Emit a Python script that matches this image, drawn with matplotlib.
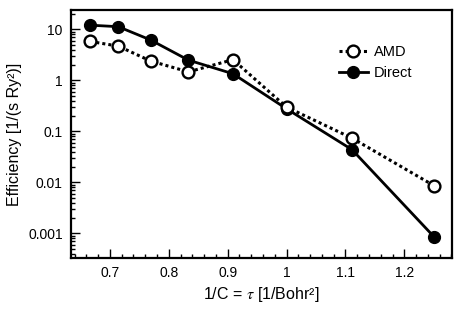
import matplotlib
matplotlib.use("Agg")
import matplotlib.pyplot as plt
from matplotlib.ticker import MultipleLocator, LogLocator, FixedFormatter, FixedLocator, NullFormatter

plt.rcParams['font.family'] = ['Liberation Sans', 'DejaVu Sans']
plt.rcParams['mathtext.fontset'] = 'stix'

## Data
inv_c = [1/1.5, 1/1.4, 1/1.3, 1/1.2, 1/1.1, 1.0, 1/0.9, 1/0.8]
amd = [5.8, 4.7, 2.4, 1.47, 2.55, 0.30, 0.074, 0.0087]
direct = [12.1, 11.3, 6.2, 2.5, 1.35, 0.278, 0.044, 0.00087]

y_ticks = [10, 1, 0.1, 0.01, 0.001]
y_labels = ['10', '1', '0.1', '0.01', '0.001']
x_ticks = [0.7, 0.8, 0.9, 1.0, 1.1, 1.2]
x_labels = ['0.7', '0.8', '0.9', '1', '1.1', '1.2']

## Plot
fig = plt.figure(figsize=(4.63, 3.09), dpi=100)
ax = fig.add_axes([71/463, 1 - 258/309, (452-71)/463, (258-10)/309])

ax.plot(inv_c, amd, ls=(0, (1, 1)), lw=2.2, color='black', marker='o', ms=8.5,
        mfc='white', mec='black', mew=1.7, label='AMD', zorder=3)
ax.plot(inv_c, direct, ls='-', lw=2, color='black', marker='o', ms=8.5,
        mfc='black', mec='black', label='Direct', zorder=2)

ax.set_yscale('log')
ax.set_xlim(0.634, 1.281)
ax.set_ylim(3.3e-4, 24)

ax.xaxis.set_major_locator(FixedLocator(x_ticks))
ax.xaxis.set_major_formatter(FixedFormatter(x_labels))
ax.xaxis.set_minor_locator(MultipleLocator(0.02))
ax.yaxis.set_major_locator(FixedLocator(y_ticks))
ax.yaxis.set_major_formatter(FixedFormatter(y_labels))
ax.yaxis.set_minor_locator(LogLocator(base=10, subs=range(2, 10), numticks=20))
ax.yaxis.set_minor_formatter(NullFormatter())

ax.tick_params(which='both', direction='in', top=False, right=False, width=1, labelsize=10, pad=6)
ax.tick_params(which='major', length=6.5)
ax.tick_params(which='minor', length=3)
for s in ax.spines.values():
    s.set_linewidth(1.6)

ax.set_xlabel(r'1/C = $\tau$ [1/Bohr²]', fontsize=11.5, labelpad=3)
ax.set_ylabel('Efficiency [1/(s Ry²)]', fontsize=11.5, labelpad=4)

ax.legend(loc='upper right', bbox_to_anchor=(0.93, 0.91), frameon=False, fontsize=10.5,
          handlelength=2.0, handletextpad=0.4, labelspacing=0.45)

fig.savefig('out.png', dpi=100)
